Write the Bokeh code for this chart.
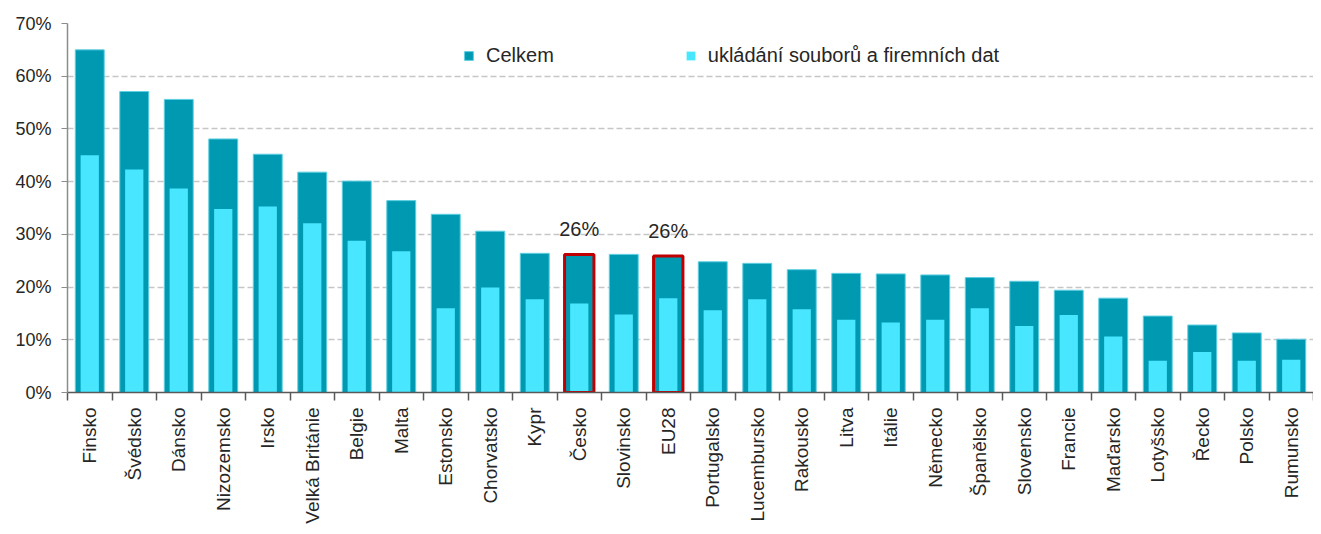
import math
from bokeh.plotting import figure
from bokeh.models import (Range1d, FixedTicker, PrintfTickFormatter, Legend,
                          LegendItem, ColumnDataSource)
from bokeh.embed import file_html
from bokeh.resources import INLINE
from bokeh.core.properties import value

countries = ["Finsko", "Švédsko", "Dánsko", "Nizozemsko", "Irsko", "Velká Británie",
             "Belgie", "Malta", "Estonsko", "Chorvatsko", "Kypr", "Česko", "Slovinsko",
             "EU28", "Portugalsko", "Lucembursko", "Rakousko", "Litva", "Itálie",
             "Německo", "Španělsko", "Slovensko", "Francie", "Maďarsko", "Lotyšsko",
             "Řecko", "Polsko", "Rumunsko"]
celkem = [65.0, 57.1, 55.6, 48.1, 45.2, 41.8, 40.1, 36.4, 33.8, 30.6, 26.4, 26.2,
          26.2, 25.9, 24.8, 24.5, 23.3, 22.6, 22.5, 22.3, 21.8, 21.1, 19.4, 17.9,
          14.5, 12.8, 11.3, 10.1]
ukladani = [45.0, 42.3, 38.7, 34.8, 35.3, 32.1, 28.8, 26.8, 16.0, 19.9, 17.7, 16.9,
            14.8, 17.9, 15.6, 17.7, 15.8, 13.8, 13.3, 13.8, 16.0, 12.6, 14.7, 10.6,
            6.0, 7.7, 6.0, 6.2]
highlight = ["Česko", "EU28"]
highlight_labels = ["26%", "26%"]
series_names = ["Celkem", "ukládání souborů a firemních dat"]
y_ticks = [0, 10, 20, 30, 40, 50, 60, 70]

DARK = "#0099B2"
LIGHT = "#48E6FF"
RED = "#C00000"
TXT = "#262626"
FONT = "Liberation Sans"

n = len(countries)
xs = list(range(n))
src = ColumnDataSource(dict(x=xs, celkem=celkem, ukladani=ukladani))
hx = [countries.index(c) for c in highlight]
hy = [celkem[i] for i in hx]
hsrc = ColumnDataSource(dict(x=hx, y=hy, label=highlight_labels))

p = figure(width=1313, height=526, output_backend="svg", toolbar_location=None,
           x_range=Range1d(-0.5, n - 0.5), y_range=Range1d(0, 70),
           min_border_left=67, min_border_right=0, min_border_top=23,
           min_border_bottom=134)
p.outline_line_color = None
p.background_fill_color = "white"
p.border_fill_color = "white"

r1 = p.vbar(x="x", top="celkem", width=0.65, source=src, fill_color=DARK,
            line_color="#5fcfe2", line_width=1)
r2 = p.vbar(x="x", top="ukladani", width=0.41, source=src, fill_color=LIGHT,
            line_color=None)
p.vbar(x="x", top="y", width=0.66, source=hsrc, fill_color=None,
       line_color=RED, line_width=3)
p.text(x="x", y="y", text="label", source=hsrc, text_align="center",
       text_baseline="bottom", y_offset=-14, text_font=value(FONT),
       text_font_size="20px", text_color=TXT)

# grid
p.xgrid.visible = False
p.ygrid.ticker = FixedTicker(ticks=y_ticks[1:])
p.ygrid.grid_line_color = "#c6c6c6"
p.ygrid.grid_line_dash = "6 3"
p.ygrid.grid_line_width = 1.5

# y axis
ya = p.yaxis[0]
ya.ticker = FixedTicker(ticks=y_ticks)
ya.formatter = PrintfTickFormatter(format="%d%%")
ya.axis_line_color = "#8c8c8c"
ya.axis_line_width = 1.5
ya.major_tick_line_color = "#8c8c8c"
ya.major_tick_out = 6
ya.major_tick_in = 0
ya.minor_tick_line_color = None
ya.major_label_text_font = FONT
ya.major_label_text_font_size = "18px"
ya.major_label_text_color = TXT
ya.major_label_standoff = 10

# x axis
xa = p.xaxis[0]
xa.ticker = FixedTicker(ticks=xs, minor_ticks=[i - 0.5 for i in range(n + 1)])
xa.major_label_overrides = {i: c for i, c in zip(xs, countries)}
xa.major_label_orientation = math.pi / 2
xa.axis_line_color = "#595959"
xa.axis_line_width = 1.5
xa.major_tick_line_color = None
xa.major_tick_out = 0
xa.major_tick_in = 0
xa.minor_tick_line_color = "#595959"
xa.minor_tick_line_width = 1.5
xa.minor_tick_out = 8
xa.minor_tick_in = 0
xa.major_label_text_font = FONT
xa.major_label_text_font_size = "19px"
xa.major_label_text_color = TXT
xa.major_label_standoff = 7

legend = Legend(items=[LegendItem(label=series_names[0], renderers=[r1]),
                       LegendItem(label=series_names[1], renderers=[r2])],
                orientation="horizontal", location=(396, 325),
                glyph_width=11, glyph_height=11, label_standoff=12, spacing=131,
                label_text_font=FONT, label_text_font_size="20px",
                label_text_color=TXT, background_fill_alpha=0,
                border_line_color=None, padding=6, margin=0)
p.add_layout(legend)

open("out.html", "w").write(file_html(p, INLINE))
